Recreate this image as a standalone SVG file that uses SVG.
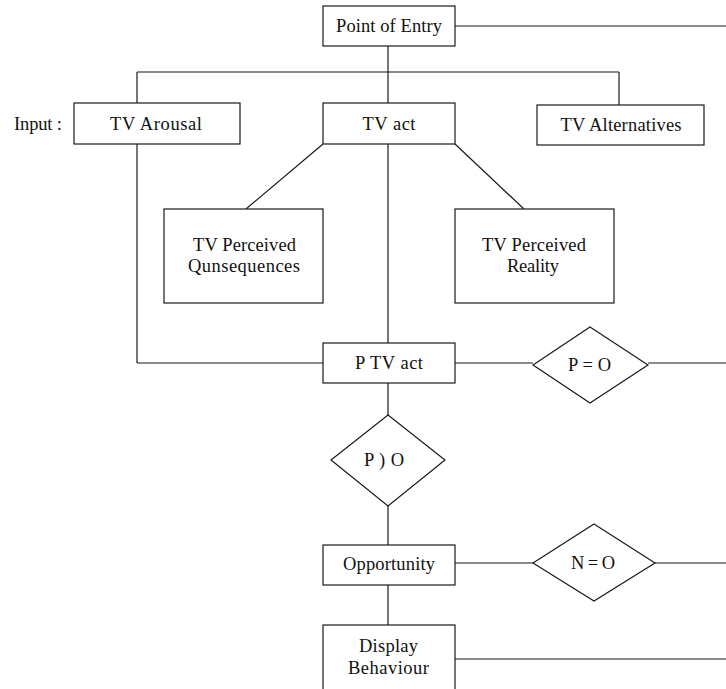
<svg xmlns="http://www.w3.org/2000/svg" width="726" height="689" viewBox="0 0 726 689">
<style>
.b{fill:#fff;stroke:#1a1a1a;stroke-width:1.2}
.c{fill:none;stroke:#1a1a1a;stroke-width:1.2}
text{font-family:"Liberation Serif","Times New Roman",serif;font-size:18.5px;fill:#111;text-anchor:middle}
</style>
<rect width="726" height="689" fill="#fff"/>
<g id="connectors">
<line class="c" x1="455" y1="26" x2="726" y2="26"/>
<line class="c" x1="388" y1="46" x2="388" y2="103"/>
<line class="c" x1="137" y1="72" x2="619" y2="72"/>
<line class="c" x1="137" y1="72" x2="137" y2="103"/>
<line class="c" x1="619" y1="72" x2="619" y2="105"/>
<line class="c" x1="137" y1="144" x2="137" y2="363"/>
<line class="c" x1="137" y1="363" x2="323" y2="363"/>
<line class="c" x1="388" y1="144" x2="388" y2="343"/>
<line class="c" x1="323" y1="144" x2="246" y2="209"/>
<line class="c" x1="455" y1="144" x2="524" y2="209"/>
<line class="c" x1="455" y1="363" x2="533" y2="363"/>
<line class="c" x1="648" y1="363" x2="726" y2="363"/>
<line class="c" x1="388" y1="383" x2="388" y2="415"/>
<line class="c" x1="388" y1="506" x2="388" y2="545"/>
<line class="c" x1="455" y1="563" x2="533" y2="563"/>
<line class="c" x1="655" y1="563" x2="726" y2="563"/>
<line class="c" x1="388" y1="585" x2="388" y2="625"/>
<line class="c" x1="455" y1="659" x2="726" y2="659"/>
</g>
<g id="point-of-entry"><rect class="b" x="323" y="6" width="132" height="40"/><text x="389" y="32" textLength="106">Point of Entry</text></g>
<g id="input-label"><text x="38" y="130" textLength="48">Input :</text></g>
<g id="tv-arousal"><rect class="b" x="74" y="103" width="166" height="41"/><text x="156" y="130" textLength="92">TV Arousal</text></g>
<g id="tv-act"><rect class="b" x="323" y="103" width="132" height="41"/><text x="389" y="130" textLength="53">TV act</text></g>
<g id="tv-alternatives"><rect class="b" x="537" y="105" width="167" height="40"/><text x="621" y="131" textLength="121">TV Alternatives</text></g>
<g id="tv-perceived-consequences"><rect class="b" x="164" y="209" width="159" height="94"/><text x="244.5" y="251" textLength="103">TV Perceived</text><text x="244" y="272" textLength="112">Qunsequences</text></g>
<g id="tv-perceived-reality"><rect class="b" x="455" y="209" width="159" height="94"/><text x="534" y="251" textLength="104">TV Perceived</text><text x="533" y="272" textLength="52">Reality</text></g>
<g id="p-tv-act"><rect class="b" x="323" y="343" width="132" height="40"/><text x="389" y="369" textLength="68">P TV act</text></g>
<g id="p-eq-o"><polygon class="b" points="590,327 648,365 590,403 533,365"/><text x="589.5" y="371" textLength="43">P = O</text></g>
<g id="p-gt-o"><polygon class="b" points="388,415 445,460 388,506 331,460"/><text x="384" y="466" textLength="40">P ) O</text></g>
<g id="opportunity"><rect class="b" x="323" y="545" width="132" height="40"/><text x="389" y="570" textLength="92">Opportunity</text></g>
<g id="n-eq-o"><polygon class="b" points="594,524 655,563 594,601 533,563"/><text x="593" y="569" textLength="44">N = O</text></g>
<g id="display-behaviour"><rect class="b" x="323" y="625" width="132" height="80"/><text x="388.5" y="652" textLength="59">Display</text><text x="388.5" y="674" textLength="81">Behaviour</text></g>
</svg>
